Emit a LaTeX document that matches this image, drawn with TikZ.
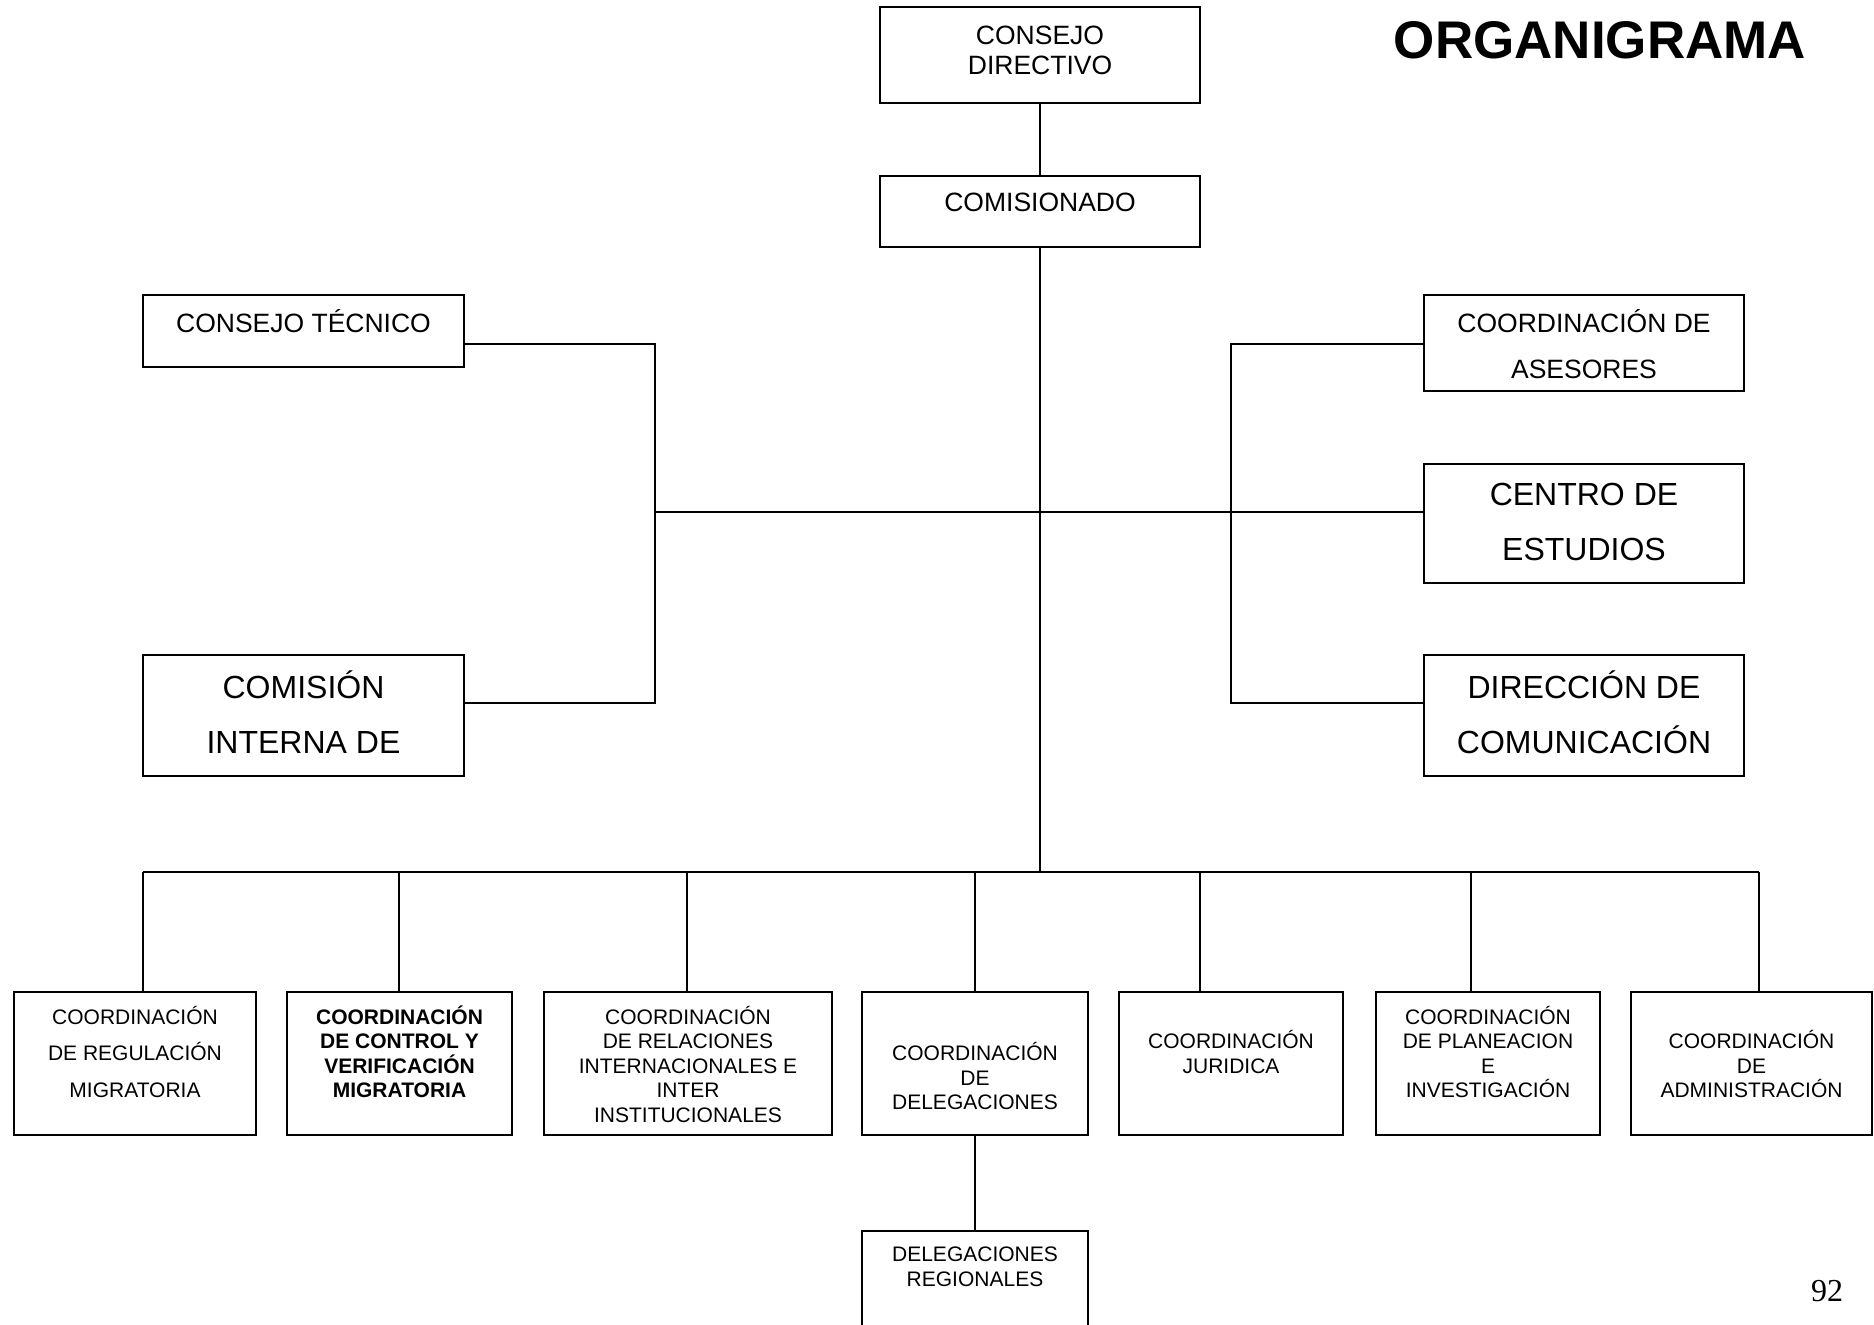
\documentclass[tikz,border=0pt]{standalone}
\usepackage{fontspec}
\setmainfont{Liberation Sans}
\newfontfamily\pagenumfont{Liberation Serif}
\begin{document}
\begin{tikzpicture}[x=1pt,y=-1pt,
  box/.style={draw, line width=1.3pt, rectangle, inner sep=0pt},
  conn/.style={line width=1.3pt},
  lbl/.style={inner sep=0pt, align=center},
  fsmall/.style={font=\fontsize{21}{24.5}\selectfont},
  fmid/.style={font=\fontsize{26.5}{30}\selectfont},
  fmidw/.style={font=\fontsize{26.5}{46}\selectfont},
  fbig/.style={font=\fontsize{32}{55}\selectfont}]
\path[use as bounding box, clip] (0,0) rectangle (1874,1325);
\fill[white] (0,0) rectangle (1874,1325);
% title and page number
\node[lbl, font=\fontsize{53}{60}\selectfont\bfseries] (title) at (1600,40) {ORGANIGRAMA};
\node[lbl, font=\pagenumfont\fontsize{32}{36}\selectfont] (pnum) at (1827,1291) {92};
% top boxes
\node[box, minimum width=320, minimum height=96] (CD) at (1040,55) {};
\node[lbl, fmid] (CDt) at (1040,50) {CONSEJO\\DIRECTIVO};
\node[box, minimum width=320, minimum height=71] (COM) at (1040,211.5) {};
\node[lbl, fmid] (COMt) at (1040,202) {COMISIONADO};
% left boxes
\node[box, minimum width=321, minimum height=72] (CT) at (303.5,331) {};
\node[lbl, fmid] (CTt) at (303.5,321.5) {CONSEJO TÉCNICO};
\node[box, minimum width=321, minimum height=121] (CI) at (303.5,715.5) {};
\node[lbl, fbig] (CIt) at (303.5,712.5) {COMISIÓN\\INTERNA DE};
% right boxes
\node[box, minimum width=320, minimum height=96] (CA) at (1584,343) {};
\node[lbl, fmidw] (CAt) at (1584,344) {COORDINACIÓN DE\\ASESORES};
\node[box, minimum width=320, minimum height=119] (CE) at (1584,523.5) {};
\node[lbl, fbig] (CEt) at (1584,521.5) {CENTRO DE\\ESTUDIOS};
\node[box, minimum width=320, minimum height=121] (DC) at (1584,715.5) {};
\node[lbl, fbig] (DCt) at (1584,712.5) {DIRECCIÓN DE\\COMUNICACIÓN};
% bottom boxes
\node[box, minimum width=242, minimum height=143] (B1) at (135,1063.5) {};
\node[lbl, font=\fontsize{21}{36.5}\selectfont] (B1t) at (135,1051.5) {COORDINACIÓN\\DE REGULACIÓN\\MIGRATORIA};
\node[box, minimum width=225, minimum height=143] (B2) at (399.5,1063.5) {};
\node[lbl, font=\fontsize{21}{24.5}\selectfont\bfseries] (B2t) at (399.5,1052) {COORDINACIÓN\\DE CONTROL Y\\VERIFICACIÓN\\MIGRATORIA};
\node[box, minimum width=288, minimum height=143] (B3) at (688,1063.5) {};
\node[lbl, fsmall] (B3t) at (688,1064) {COORDINACIÓN\\DE RELACIONES\\INTERNACIONALES E\\INTER\\INSTITUCIONALES};
\node[box, minimum width=226, minimum height=143] (B4) at (975,1063.5) {};
\node[lbl, fsmall] (B4t) at (975,1076) {COORDINACIÓN\\DE\\DELEGACIONES};
\node[box, minimum width=224, minimum height=143] (B5) at (1231,1063.5) {};
\node[lbl, fsmall] (B5t) at (1231,1052) {COORDINACIÓN\\JURIDICA};
\node[box, minimum width=224, minimum height=143] (B6) at (1488,1063.5) {};
\node[lbl, fsmall] (B6t) at (1488,1052) {COORDINACIÓN\\DE PLANEACION\\E\\INVESTIGACIÓN};
\node[box, minimum width=241, minimum height=143] (B7) at (1751.5,1063.5) {};
\node[lbl, fsmall] (B7t) at (1751.5,1064) {COORDINACIÓN\\DE\\ADMINISTRACIÓN};
\node[box, minimum width=226, minimum height=160] (DR) at (975,1311) {};
\node[lbl, fsmall] (DRt) at (975,1267) {DELEGACIONES\\REGIONALES};
% connector coordinates
\coordinate (lt) at (655,344);
\coordinate (lb) at (655,703);
\coordinate (lm) at (655,512);
\coordinate (rt) at (1231,344);
\coordinate (rb) at (1231,703);
\coordinate (bus) at (1040,872);
\coordinate (d1) at (143,872);
\coordinate (d2) at (399,872);
\coordinate (d3) at (687,872);
\coordinate (d4) at (975,872);
\coordinate (d5) at (1200,872);
\coordinate (d6) at (1471,872);
\coordinate (d7) at (1759,872);
% connectors
\draw[conn] (CD.south) -- (COM.north);
\draw[conn] (COM.south) -- (bus);
\draw[conn] (CT.east |- lt) -- (lt) -- (lb) -- (CI.east |- lb);
\draw[conn] (lm) -- (CE.west |- lm);
\draw[conn] (CA.west |- rt) -- (rt) -- (rb) -- (DC.west |- rb);
\draw[conn] (d1) -- (d7);
\foreach \i in {1,...,7} {\draw[conn] (d\i) -- (B\i.north -| d\i);}
\draw[conn] (B4.south) -- (DR.north);
\end{tikzpicture}
\end{document}
